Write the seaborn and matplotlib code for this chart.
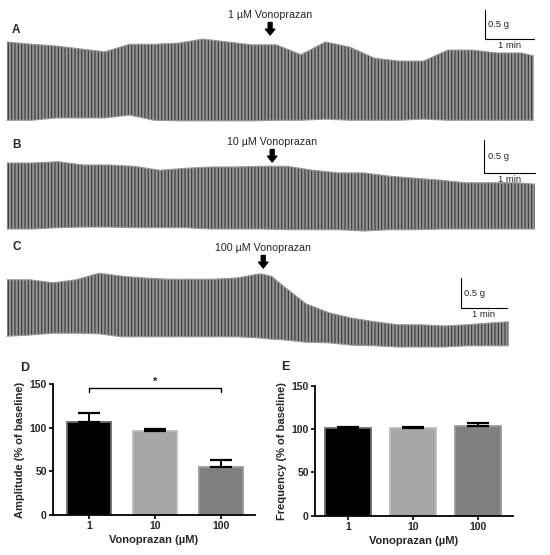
import numpy as np
import pandas as pd
import matplotlib
matplotlib.use("Agg")
import matplotlib.pyplot as plt
import seaborn as sns

# contraction traces: envelope of the recording (time in min, tension in g)
a_time = [0, 0.5, 1, 1.5, 2, 2.5, 3, 3.5, 4, 4.5, 5, 5.5, 6, 6.5, 7, 7.5, 8, 8.5, 9, 9.5, 10, 10.5, 10.75]
a_top = [1.38, 1.34, 1.31, 1.26, 1.21, 1.34, 1.34, 1.36, 1.43, 1.38, 1.33, 1.33, 1.16, 1.38, 1.29, 1.10,
         1.05, 1.05, 1.24, 1.24, 1.19, 1.19, 1.14]
a_bottom = [0.03, 0.03, 0.07, 0.07, 0.07, 0.12, 0.03, 0.02, 0.02, 0.02, 0.02, 0.03, 0.03, 0.05, 0.03, 0.03,
            0.03, 0.05, 0.03, 0.03, 0.03, 0.03, 0.03]

b_time = [0, 0.5, 1, 1.5, 2, 2.5, 3, 3.5, 4, 4.5, 5, 5.5, 6, 6.5, 7, 7.5, 8, 8.5, 9, 9.5, 10, 10.35]
b_top = [1.03, 1.03, 1.05, 1.00, 1.00, 0.98, 0.92, 0.95, 0.97, 0.97, 0.98, 0.98, 0.92, 0.88, 0.88, 0.83,
         0.80, 0.77, 0.73, 0.73, 0.73, 0.71]
b_bottom = [0.03, 0.03, 0.05, 0.06, 0.06, 0.05, 0.05, 0.05, 0.03, 0.03, 0.03, 0.02, 0.02, 0.02, 0.00, 0.02,
            0.02, 0.03, 0.03, 0.03, 0.03, 0.03]

c_time = [0, 0.5, 1, 1.5, 2, 2.5, 3, 3.5, 4, 4.5, 5, 5.5, 5.75, 6, 6.5, 7, 7.5, 8, 8.5, 9, 9.5, 10, 10.5, 10.9]
c_top = [1.12, 1.12, 1.07, 1.12, 1.23, 1.18, 1.15, 1.13, 1.13, 1.13, 1.15, 1.22, 1.18, 1.02, 0.72, 0.57,
         0.48, 0.42, 0.37, 0.37, 0.35, 0.37, 0.40, 0.42]
c_bottom = [0.18, 0.20, 0.23, 0.23, 0.22, 0.17, 0.17, 0.17, 0.17, 0.17, 0.17, 0.15, 0.13, 0.12, 0.08, 0.07,
            0.03, 0.02, 0.00, 0.00, 0.00, 0.02, 0.02, 0.02]

doses = ["1", "10", "100"]
drug_time = [5.37, 5.2, 5.57]  # min, when vonoprazan was added

# summary (% of baseline), mean and SEM
amp_mean = [106.4, 96.1, 55.3]
amp_sem = [10.3, 2.8, 8.0]
freq_mean = [101.2, 101.5, 104.2]
freq_sem = [1.8, 1.5, 3.5]

bar_colors = ["#000000", "#a6a6a6", "#808080"]
bar_edges = ["#6a6a6a", "#bdbdbd", "#9a9a9a"]

sns.set_theme(style="ticks")
plt.rcParams["font.family"] = ["Liberation Sans", "DejaVu Sans"]
plt.rcParams["hatch.linewidth"] = 0.8

W, H = 550, 555
fig = plt.figure(figsize=(W / 100, H / 100), dpi=100)

# layout of each trace strip in pixels
strips = [
    dict(lab="A", t=a_time, top=a_top, bot=a_bottom, px=(0, 128), x0=7, ppm=49, y0=122, ppg=58,
         tip=35, sb=(485, 39), laby=30),
    dict(lab="B", t=b_time, top=b_top, bot=b_bottom, px=(128, 240), x0=7, ppm=51, y0=231, ppg=66,
         tip=162, sb=(484, 173), laby=145),
    dict(lab="C", t=c_time, top=c_top, bot=c_bottom, px=(240, 356), x0=7, ppm=46, y0=347, ppg=60,
         tip=268, sb=(461, 308), laby=247),
]

for s, dose, td in zip(strips, doses, drug_time):
    top_px, bot_px = s["px"]
    ax = fig.add_axes([0, 1 - bot_px / H, 1, (bot_px - top_px) / H])
    ax.set_xlim(-s["x0"] / s["ppm"], (W - s["x0"]) / s["ppm"])
    ax.set_ylim((s["y0"] - bot_px) / s["ppg"], (s["y0"] - top_px) / s["ppg"])
    ax.axis("off")

    ax.fill_between(s["t"], s["bot"], s["top"], facecolor="#939393", edgecolor="#383838",
                    hatch="|||||", linewidth=0)
    ax.plot(s["t"], s["top"], color="#9a9a9a", lw=0.8)
    ax.plot(s["t"], s["bot"], color="#9a9a9a", lw=0.8)

    # drug addition arrow + label
    g_tip = (s["y0"] - s["tip"]) / s["ppg"]
    ax.annotate("", xy=(td, g_tip), xytext=(0, 9), textcoords="offset points",
                arrowprops=dict(arrowstyle="simple,head_length=0.6,head_width=0.95,tail_width=0.4",
                                color="black", mutation_scale=7, shrinkA=0, shrinkB=0))
    ax.annotate(f"{dose} \u00b5M Vonoprazan", xy=(td, g_tip), xytext=(0, 14.5),
                textcoords="offset points", ha="center", va="center", fontsize=7.7)

    # scale bar 0.5 g / 1 min
    sx = (s["sb"][0] - s["x0"]) / s["ppm"]
    sy = (s["y0"] - s["sb"][1]) / s["ppg"]
    ax.plot([sx, sx, sx + 1], [sy + 0.5, sy, sy], color="black", lw=0.8, solid_joinstyle="miter")
    ax.text(sx + 0.07, sy + 0.25, "0.5 g", ha="left", va="center", fontsize=6.8)
    ax.text(sx + 0.5, sy - 0.03, "1 min", ha="center", va="top", fontsize=6.8)

    fig.text(12 / W, 1 - s["laby"] / H, s["lab"], fontsize=8.5, fontweight="bold", ha="left", va="center")


def bar_panel(rect, means, sems, ylabel, xlim, width):
    ax = fig.add_axes(rect)
    df = pd.DataFrame({"dose": doses, "value": means})
    sns.barplot(data=df, x="dose", y="value", hue="dose", palette=bar_colors, legend=False,
                width=width, ax=ax, saturation=1)
    for p, ec in zip(ax.patches, bar_edges):
        p.set_edgecolor(ec)
        p.set_linewidth(1.3)
    ax.errorbar(range(3), means, yerr=[[0, 0, 0], sems], fmt="none", ecolor="black",
                elinewidth=1.4, capsize=8, capthick=1.6, zorder=5)
    ax.set_ylim(0, 150)
    ax.set_xlim(*xlim)
    ax.set_yticks([0, 50, 100, 150])
    ax.set_ylabel(ylabel, fontsize=8, fontweight="bold", labelpad=3)
    ax.set_xlabel("Vonoprazan (\u00b5M)", fontsize=8, fontweight="bold", labelpad=3)
    ax.tick_params(axis="both", labelsize=7.5, length=3, width=1.2, pad=1.5, color="black")
    for lab in ax.get_xticklabels() + ax.get_yticklabels():
        lab.set_fontweight("bold")
    for sp in ["top", "right"]:
        ax.spines[sp].set_visible(False)
    for sp in ["left", "bottom"]:
        ax.spines[sp].set_linewidth(1.3)
        ax.spines[sp].set_color("black")
    return ax


axd = bar_panel([53 / W, 1 - 515 / H, 202 / W, 131 / H], amp_mean, amp_sem,
                "Amplitude (% of baseline)", (-0.545, 2.515), 0.68)
axd.plot([0, 0, 2, 2], [141, 145.5, 145.5, 141], color="black", lw=1.0, clip_on=False)
axd.text(1, 152, "*", ha="center", va="center", fontsize=8, fontweight="bold")

axe = bar_panel([315 / W, 1 - 515.7 / H, 198 / W, 129.7 / H], freq_mean, freq_sem,
                "Frequency (% of baseline)", (-0.51, 2.54), 0.7)

fig.text(20 / W, 1 - 368 / H, "D", fontsize=9, fontweight="bold", ha="left", va="center")
fig.text(281 / W, 1 - 367 / H, "E", fontsize=9, fontweight="bold", ha="left", va="center")

fig.savefig("out.png", dpi=100)
